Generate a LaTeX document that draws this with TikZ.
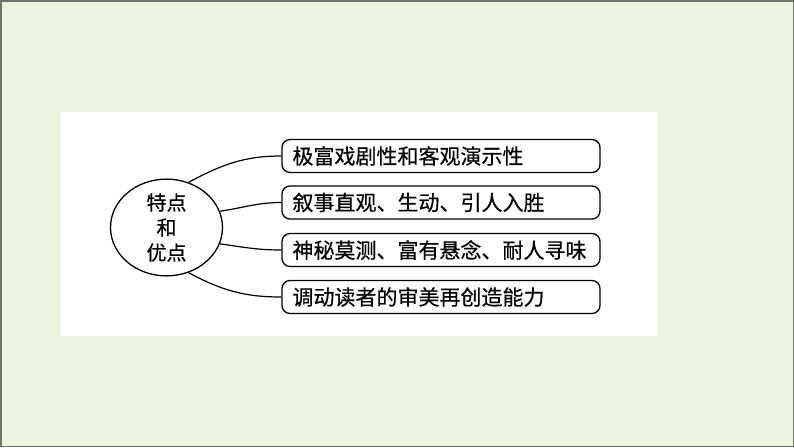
\documentclass[tikz,border=0pt]{standalone}
\usepackage{fontspec}
\setmainfont{Noto Sans CJK SC}[FakeBold=0.5]
\usetikzlibrary{shapes.geometric}
\definecolor{bgc}{HTML}{ECF3E2}
\definecolor{framec}{HTML}{6E7468}
\tikzset{
  itembox/.style={draw=black, line width=1.3pt, rounded corners=8pt, fill=white,
    minimum height=33pt, text width=297pt, inner xsep=10.5pt, inner ysep=0pt,
    align=left, font=\fontsize{21pt}{25pt}\selectfont},
  hub/.style={draw=black, line width=1.3pt, ellipse, minimum width=112pt, minimum height=96pt,
    inner sep=0pt, align=center, font=\fontsize{20pt}{25pt}\selectfont},
  link/.style={draw=black, line width=1.2pt}
}
\begin{document}
\begin{tikzpicture}[x=1pt,y=-1pt]
\useasboundingbox (0,0) rectangle (794,447);
\fill[bgc] (0,0) rectangle (794,447);
\draw[framec, line width=1.5pt] (0.75,0.75) rectangle (793.25,446.25);
\fill[white] (61,112) rectangle (657,336);
\node[hub] (c) at (166.5,227.5) {特点\\和\\优点};
\node[itembox] (b1) at (441,156) {极富戏剧性和客观演示性};
\node[itembox] (b2) at (441,202.5) {叙事直观、生动、引人入胜};
\node[itembox] (b3) at (441,250) {神秘莫测、富有悬念、耐人寻味};
\node[itembox] (b4) at (441,297) {调动读者的审美再创造能力};
\draw[link] (c.64) to[out=28,in=180] (b1.west);
\draw[link] (c.17) to[out=8,in=180] (b2.west);
\draw[link] (c.-17) to[out=-8,in=180] (b3.west);
\draw[link] (c.-64) to[out=-28,in=180] (b4.west);
\end{tikzpicture}
\end{document}
